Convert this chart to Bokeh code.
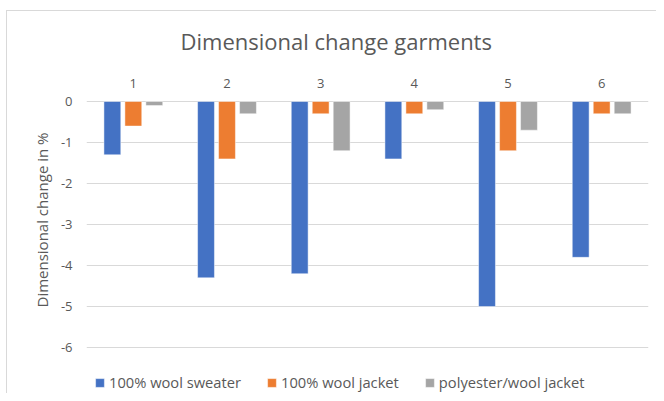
from bokeh.plotting import figure
from bokeh.models import (ColumnDataSource, FactorRange, Range1d, FixedTicker, Title,
                          Legend, LegendItem, CustomJSTickFormatter)
from bokeh.transform import dodge
from bokeh.embed import file_html
from bokeh.resources import INLINE

# ---- data ----
categories = ["1", "2", "3", "4", "5", "6"]
wool_sweater = [-1.3, -4.3, -4.2, -1.4, -5.0, -3.8]
wool_jacket = [-0.6, -1.4, -0.3, -0.3, -1.2, -0.3]
poly_wool_jacket = [-0.1, -0.3, -1.2, -0.2, -0.7, -0.3]
series_names = ["100% wool sweater", "100% wool jacket", "polyester/wool jacket"]
y_ticks = [0, -1, -2, -3, -4, -5, -6]
title_text = "Dimensional change garments"
y_label_text = "Dimensional change in %"

FONT = "Open Sans"
TXT = "#595959"
colors = ["#4472C4", "#ED7D31", "#A5A5A5"]

source = ColumnDataSource(dict(cat=categories, s1=wool_sweater, s2=wool_jacket, s3=poly_wool_jacket))

p = figure(width=656, height=393, output_backend="svg", toolbar_location=None,
           x_range=FactorRange(factors=categories, range_padding=0),
           y_range=Range1d(-7.12, 0.024), x_axis_location="above",
           min_border_left=86, min_border_right=8, min_border_top=100, min_border_bottom=0)
p.outline_line_color = None
p.background_fill_color = "white"
p.border_fill_color = None
p.styles = {"background": "linear-gradient(#D9D9D9, #D9D9D9) 6px 10px / 1px 500px no-repeat, "
                          "linear-gradient(#D9D9D9, #D9D9D9) 6px 10px / 800px 1px no-repeat, #FFFFFF"}

# chart title (above, left-aligned with offset so it sits over the chart area centre)
p.add_layout(Title(text=title_text, align="left", offset=94, standoff=39,
                   text_font=FONT, text_font_size="22px", text_font_style="normal",
                   text_color=TXT), "above")

# axes
xa = p.xaxis[0]
xa.axis_line_color = None
xa.major_tick_line_color = None
xa.minor_tick_line_color = None
xa.major_label_standoff = 7
xa.major_label_text_font = FONT
xa.major_label_text_font_size = "13px"
xa.major_label_text_color = TXT

ya = p.yaxis[0]
ya.ticker = FixedTicker(ticks=y_ticks)
ya.formatter = CustomJSTickFormatter(code="return String(tick)")
ya.axis_line_color = None
ya.major_tick_line_color = None
ya.minor_tick_line_color = None
ya.major_label_standoff = 8
ya.major_label_text_font = FONT
ya.major_label_text_font_size = "13px"
ya.major_label_text_color = TXT

# y axis title (vertical), placed beside the axis over the 0..-6 span
p.add_layout(Title(text=y_label_text, align="left", offset=86, standoff=12,
                   text_font=FONT, text_font_size="15px", text_font_style="normal",
                   text_color=TXT), "left")

p.xgrid.grid_line_color = None
p.ygrid.grid_line_color = "#D9D9D9"
p.ygrid.grid_line_width = 1

# bars
offsets = [-0.224, 0.0, 0.224]
cols = ["s1", "s2", "s3"]
renderers = []
for off, col, c in zip(offsets, cols, colors):
    r = p.vbar(x=dodge("cat", off, range=p.x_range), top=col, bottom=0, width=0.18,
               source=source, fill_color=c, line_color="white", line_alpha=0.6, line_width=0.8)
    renderers.append(r)

legend = Legend(items=[LegendItem(label=n, renderers=[r]) for n, r in zip(series_names, renderers)],
                orientation="horizontal", location=(8, 1), padding=0, margin=0,
                spacing=25, label_standoff=4, glyph_width=11, glyph_height=11,
                label_height=18, label_text_font=FONT, label_text_font_size="14.7px",
                label_text_color=TXT, border_line_color=None, background_fill_alpha=0)
p.add_layout(legend, "center")

open("out.html", "w").write(file_html(p, INLINE))
